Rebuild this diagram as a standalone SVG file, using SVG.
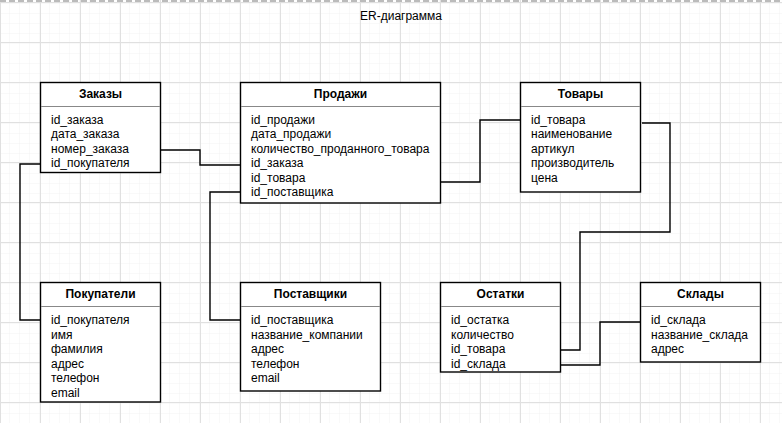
<svg xmlns="http://www.w3.org/2000/svg" width="782" height="423" viewBox="0 0 782 423">
<defs>
<pattern id="minor" width="10" height="10" patternUnits="userSpaceOnUse" patternTransform="translate(0,2)">
<path d="M10 0V10M0 10H10" fill="none" stroke="#f2f2f2" stroke-width="1"/>
</pattern>
<pattern id="major" width="40" height="40" patternUnits="userSpaceOnUse" patternTransform="translate(0,2)">
<rect width="40" height="40" fill="url(#minor)"/>
<path d="M0.5 0V40M0 0.5H40" fill="none" stroke="#e0e0e0" stroke-width="1"/>
</pattern>
<style>
.box{fill:#fff;stroke:#000;stroke-width:1.4}
.sep{stroke:#888;stroke-width:1}
.hd{font-family:"Liberation Sans",Arial,sans-serif;font-size:12px;font-weight:bold;text-anchor:middle;fill:#000}
.fd{font-family:"Liberation Sans",Arial,sans-serif;font-size:12px;fill:#000}
.ln{fill:none;stroke:#000;stroke-width:1.4}
</style>
</defs>
<rect width="782" height="423" fill="#fff"/>
<rect width="782" height="423" fill="url(#major)"/>
<line x1="0" y1="1" x2="782" y2="1" stroke="#bbb" stroke-width="2" stroke-dasharray="6 3"/>
<text x="401" y="20" class="fd" text-anchor="middle">ER-диаграмма</text>

<g id="connectors">
<path class="ln" d="M160 150H200V165H240"/>
<path class="ln" d="M40 164H20V320H40"/>
<path class="ln" d="M240 192H210V320H240"/>
<path class="ln" d="M440 182H480V120H520"/>
<path class="ln" d="M642 123H670V232H580V350H561"/>
<path class="ln" d="M561 365H600V322H640"/>
</g>

<g id="zakazy">
<rect class="box" x="40.5" y="82.5" width="120" height="90"/>
<line class="sep" x1="41" y1="106.5" x2="160" y2="106.5"/>
<text class="hd" x="100.5" y="97.5">Заказы</text>
<text class="fd" x="51" y="123.5">id_заказа</text>
<text class="fd" x="51" y="138">дата_заказа</text>
<text class="fd" x="51" y="152.5">номер_заказа</text>
<text class="fd" x="51" y="167">id_покупателя</text>
</g>

<g id="prodazhi">
<rect class="box" x="240.5" y="82.5" width="200" height="120.5"/>
<line class="sep" x1="241" y1="106.5" x2="440" y2="106.5"/>
<text class="hd" x="340.5" y="97.5">Продажи</text>
<text class="fd" x="251" y="123.5">id_продажи</text>
<text class="fd" x="251" y="138">дата_продажи</text>
<text class="fd" x="251" y="152.5">количество_проданного_товара</text>
<text class="fd" x="251" y="167">id_заказа</text>
<text class="fd" x="251" y="181.5">id_товара</text>
<text class="fd" x="251" y="196">id_поставщика</text>
</g>

<g id="tovary">
<rect class="box" x="520.5" y="82.5" width="120" height="109.5"/>
<line class="sep" x1="521" y1="106.5" x2="640" y2="106.5"/>
<text class="hd" x="580.5" y="97.5">Товары</text>
<text class="fd" x="531" y="123.5">id_товара</text>
<text class="fd" x="531" y="138">наименование</text>
<text class="fd" x="531" y="152.5">артикул</text>
<text class="fd" x="531" y="167">производитель</text>
<text class="fd" x="531" y="181.5">цена</text>
</g>

<g id="pokupateli">
<rect class="box" x="40.5" y="282.5" width="120" height="119.5"/>
<line class="sep" x1="41" y1="306.5" x2="160" y2="306.5"/>
<text class="hd" x="100.5" y="297.5">Покупатели</text>
<text class="fd" x="51" y="324">id_покупателя</text>
<text class="fd" x="51" y="338.5">имя</text>
<text class="fd" x="51" y="353">фамилия</text>
<text class="fd" x="51" y="367.5">адрес</text>
<text class="fd" x="51" y="382">телефон</text>
<text class="fd" x="51" y="396.5">email</text>
</g>

<g id="postavshchiki">
<rect class="box" x="240.5" y="282.5" width="140" height="108.5"/>
<line class="sep" x1="241" y1="306.5" x2="380" y2="306.5"/>
<text class="hd" x="310.5" y="297.5">Поставщики</text>
<text class="fd" x="251" y="324">id_поставщика</text>
<text class="fd" x="251" y="338.5">название_компании</text>
<text class="fd" x="251" y="353">адрес</text>
<text class="fd" x="251" y="367.5">телефон</text>
<text class="fd" x="251" y="382">email</text>
</g>

<g id="ostatki">
<rect class="box" x="440.5" y="282.5" width="120" height="89.5"/>
<line class="sep" x1="441" y1="306.5" x2="560" y2="306.5"/>
<text class="hd" x="500.5" y="297.5">Остатки</text>
<text class="fd" x="451" y="324">id_остатка</text>
<text class="fd" x="451" y="338.5">количество</text>
<text class="fd" x="451" y="353">id_товара</text>
<text class="fd" x="451" y="367.5">id_склада</text>
</g>

<g id="sklady">
<rect class="box" x="640.5" y="282.5" width="120" height="79.5"/>
<line class="sep" x1="641" y1="306.5" x2="760" y2="306.5"/>
<text class="hd" x="700.5" y="297.5">Склады</text>
<text class="fd" x="651" y="324">id_склада</text>
<text class="fd" x="651" y="338.5">название_склада</text>
<text class="fd" x="651" y="353">адрес</text>
</g>
</svg>
